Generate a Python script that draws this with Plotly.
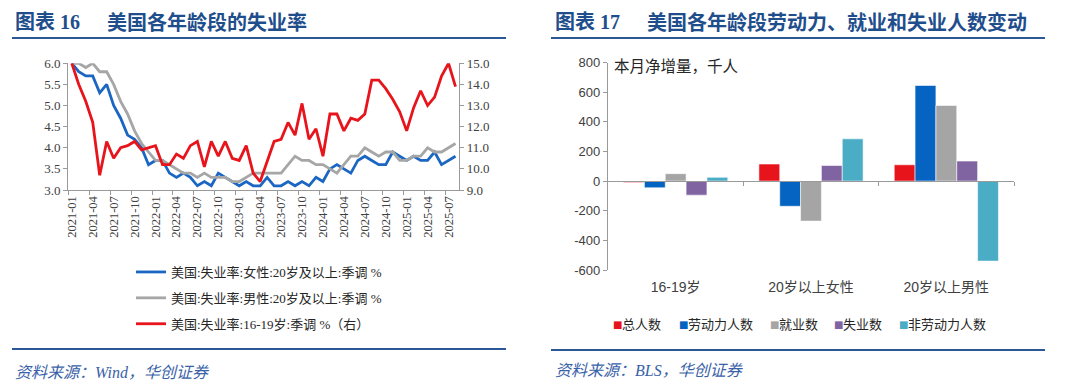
import plotly.graph_objects as go
import pandas as pd

W, H = 1080, 389

# ---------------- data: left chart (monthly, 2021-01 .. 2025-08) ----------------
months = [d.strftime("%Y-%m") for d in pd.date_range("2021-01-01", "2025-08-01", freq="MS")]

female_20 = [6.0, 5.8, 5.7, 5.7, 5.3, 5.5, 5.0, 4.7, 4.3, 4.2,
             4.0, 3.6, 3.7, 3.7, 3.4, 3.3, 3.4, 3.3, 3.1, 3.2,
             3.1, 3.4, 3.3, 3.2, 3.1, 3.2, 3.1, 3.1, 3.3, 3.1,
             3.1, 3.2, 3.1, 3.2, 3.1, 3.3, 3.2, 3.5, 3.6, 3.5,
             3.4, 3.7, 3.8, 3.7, 3.6, 3.6, 3.9, 3.8, 3.7, 3.8,
             3.7, 3.7, 3.9, 3.6, 3.7, 3.8]
male_20 = [6.0, 6.0, 5.9, 6.0, 5.8, 5.8, 5.5, 5.1, 4.8, 4.4,
           4.1, 3.9, 3.7, 3.7, 3.6, 3.5, 3.4, 3.4, 3.3, 3.4,
           3.3, 3.3, 3.3, 3.2, 3.2, 3.3, 3.4, 3.4, 3.4, 3.4,
           3.4, 3.6, 3.8, 3.7, 3.7, 3.6, 3.6, 3.5, 3.4, 3.6,
           3.8, 3.8, 4.0, 3.9, 3.8, 3.9, 3.9, 3.7, 3.7, 3.8,
           3.8, 4.0, 3.9, 3.9, 4.0, 4.1]
teen_16_19 = [15.0, 14.0, 13.2, 12.2, 9.7, 11.3, 10.5, 11.0, 11.1, 11.3,
              10.9, 11.0, 11.1, 10.2, 10.2, 10.7, 10.5, 11.1, 11.3, 10.1,
              11.3, 10.6, 11.3, 10.5, 10.4, 11.1, 9.8, 9.4, 10.3, 11.3,
              11.4, 12.2, 11.6, 13.1, 11.4, 11.9, 10.6, 12.6, 12.6, 11.8,
              12.4, 12.3, 12.6, 14.2, 14.2, 13.8, 13.3, 12.7, 11.8, 12.9,
              13.7, 13.0, 13.4, 14.4, 15.0, 13.9]

line_names = ["美国:失业率:女性:20岁及以上:季调 %",
              "美国:失业率:男性:20岁及以上:季调 %",
              "美国:失业率:16-19岁:季调 %（右）"]

# ---------------- data: right chart ----------------
groups = ["16-19岁", "20岁以上女性", "20岁以上男性"]
bar_names = ["总人数", "劳动力人数", "就业数", "失业数", "非劳动力人数"]
total_pop = [-10, 115, 110]
labor_force = [-45, -170, 645]
employed = [50, -270, 510]
unemployed = [-95, 105, 135]
not_in_lf = [25, 285, -540]
bar_values = [total_pop, labor_force, employed, unemployed, not_in_lf]
bar_ticks = [800, 600, 400, 200, 0, -200, -400, -600]

# ---------------- styles ----------------
SERIF = "Liberation Serif, Noto Sans CJK SC, serif"
SANS = "Liberation Sans, Noto Sans CJK SC, sans-serif"
CJK = "Noto Sans CJK SC, Liberation Sans"
AX = "#9A9A9A"
TXT = "#404040"
TITLE_C = "#1F4E8C"
RULE_C = "#2B5797"
line_colors = ["#1A66C2", "#A6A6A6", "#E8141C"]
bar_colors = ["#E8141C", "#0563C1", "#A5A5A5", "#8064A2", "#4BACC6"]


def px_x(p):
    return p / W


def px_y(p):
    return 1 - p / H


# plot areas in pixels
L_X0, L_X1, L_Y0, L_Y1 = 68.3, 459.0, 63.3, 190.0
R_X0, R_X1, R_Y0, R_Y1 = 608.0, 1014.0, 62.5, 270.0

fig = go.Figure()

n = len(months)
xpos = [i + 0.5 for i in range(n)]
for name, vals, col, ax in zip(line_names, [female_20, male_20, teen_16_19],
                               line_colors, ["y", "y", "y2"]):
    fig.add_trace(go.Scatter(
        x=xpos, y=vals, name=name, mode="lines", yaxis=ax, xaxis="x",
        line=dict(color=col, width=2.8), legend="legend",
        legendgroup=name, hoverinfo="skip"))

for name, vals, col in zip(bar_names, bar_values, bar_colors):
    fig.add_trace(go.Bar(
        x=groups, y=vals, name=name, xaxis="x3", yaxis="y3", showlegend=False,
        marker=dict(color=col, line=dict(color="rgba(255,255,255,0.7)", width=0.8)),
        hoverinfo="skip"))
# empty helper trace so the zero-line axis is drawn
fig.add_trace(go.Scatter(x=[], y=[], xaxis="x4", yaxis="y3", showlegend=False,
                         hoverinfo="skip"))

label_idx = list(range(0, n, 3))
axis_common = dict(showgrid=False, zeroline=False, showline=True, linecolor=AX,
                   linewidth=1.3, tickcolor=AX, ticklen=4, tickwidth=1,
                   automargin=False)

y3_range = [-600, 800]
zero_pos = px_y(R_Y1) + (0 - y3_range[0]) / (y3_range[1] - y3_range[0]) * (px_y(R_Y0) - px_y(R_Y1))

fig.update_layout(
    template="none",
    width=W, height=H, margin=dict(l=0, r=0, t=0, b=0, pad=0, autoexpand=False),
    paper_bgcolor="white", plot_bgcolor="rgba(0,0,0,0)",
    barmode="group", bargap=0.23, bargroupgap=0,
    xaxis=dict(domain=[px_x(L_X0), px_x(L_X1)], range=[0, n], anchor="y",
               tickmode="array", tickvals=[i + 0.5 for i in label_idx],
               ticktext=[months[i] for i in label_idx], tickangle=-90, ticks="",
               minor=dict(tickmode="array", tickvals=label_idx, ticks="outside",
                          ticklen=4, tickcolor=AX, showgrid=False),
               tickfont=dict(family=SERIF, size=12.5, color=TXT), automargin=False,
               showgrid=False, zeroline=False, showline=True, linecolor=AX, linewidth=1.3),
    yaxis=dict(domain=[px_y(L_Y1), px_y(L_Y0)], range=[3, 6], dtick=0.5, tick0=3,
               tickformat=".1f", ticks="outside", anchor="x",
               tickfont=dict(family=SERIF, size=13, color=TXT), **axis_common),
    yaxis2=dict(overlaying="y", side="right", anchor="x", range=[9, 15], dtick=1,
                tick0=9, tickformat=".1f", ticks="outside",
                tickfont=dict(family=SERIF, size=13, color=TXT), **axis_common),
    xaxis3=dict(domain=[px_x(R_X0), px_x(R_X1)], anchor="y3", type="category",
                categoryorder="array", categoryarray=groups, range=[-0.5, 2.5],
                ticks="", showline=False, showgrid=False, zeroline=False,
                ticklabelstandoff=7, automargin=False,
                tickfont=dict(family=SANS, size=14, color=TXT)),
    xaxis4=dict(domain=[px_x(R_X0), px_x(R_X1)], overlaying="x3", anchor="free",
                position=zero_pos, range=[-0.5, 2.5], tickmode="array",
                tickvals=[0.5, 1.5, 2.5], ticks="outside", showticklabels=False,
                **axis_common),
    yaxis3=dict(domain=[px_y(R_Y1), px_y(R_Y0)], range=y3_range, anchor="x3",
                tickmode="array", tickvals=bar_ticks, ticktext=[str(v) for v in bar_ticks],
                ticks="outside", tickfont=dict(family=SANS, size=13, color=TXT),
                **axis_common),
    legend=dict(x=px_x(131), y=px_y(257), xanchor="left", yanchor="top",
                orientation="v", tracegroupgap=6, bgcolor="rgba(0,0,0,0)",
                font=dict(family=SERIF, size=13, color="#262626"), itemwidth=30),
    showlegend=True,
)

# bar-series key below the right chart: small colour square + label
key_x = [612, 678, 769, 833, 898]
for name, col, kx in zip(bar_names, bar_colors, key_x):
    fig.add_annotation(xref="paper", yref="paper", x=px_x(kx - 1), y=px_y(324),
                       xanchor="left", yanchor="middle", showarrow=False, text="■",
                       font=dict(family="DejaVu Sans", size=10, color=col))
    fig.add_annotation(xref="paper", yref="paper", x=px_x(kx + 8), y=px_y(323),
                       xanchor="left", yanchor="middle", showarrow=False, text=name,
                       font=dict(family=CJK, size=13, color="#262626"))

# titles, rules, source notes
ann = [
    dict(text="<b>图表 16</b>", x=px_x(13), y=px_y(22)),
    dict(text="<b>美国各年龄段的失业率</b>", x=px_x(105), y=px_y(22)),
    dict(text="<b>图表 17</b>", x=px_x(553), y=px_y(22)),
    dict(text="<b>美国各年龄段劳动力、就业和失业人数变动</b>", x=px_x(645), y=px_y(22)),
]
for a in ann:
    fig.add_annotation(xref="paper", yref="paper", xanchor="left", yanchor="middle",
                       showarrow=False, font=dict(family=SERIF, size=20, color=TITLE_C), **a)
for txt, x0, y0 in [("<i>资料来源：Wind，华创证券</i>", 13, 372),
                    ("<i>资料来源：BLS，华创证券</i>", 553, 370)]:
    fig.add_annotation(xref="paper", yref="paper", x=px_x(x0), y=px_y(y0),
                       xanchor="left", yanchor="middle", showarrow=False, text=txt,
                       font=dict(family=SERIF, size=16, color="#3A62A8"))
fig.add_annotation(xref="paper", yref="paper", x=px_x(612), y=px_y(65),
                   xanchor="left", yanchor="middle", showarrow=False,
                   text="本月净增量，千人", font=dict(family=CJK, size=15.5, color="#262626"))

for x0, x1, y in [(12, 506, 38), (551, 1045, 38), (12, 506, 349), (551, 1045, 350)]:
    fig.add_shape(type="line", xref="paper", yref="paper",
                  x0=px_x(x0), x1=px_x(x1), y0=px_y(y), y1=px_y(y),
                  line=dict(color=RULE_C, width=2))

fig.write_html("out.html", config={"responsive": False, "displayModeBar": False},
               post_script="document.body.style.margin='0';"
                           "document.body.style.overflow='hidden';")
